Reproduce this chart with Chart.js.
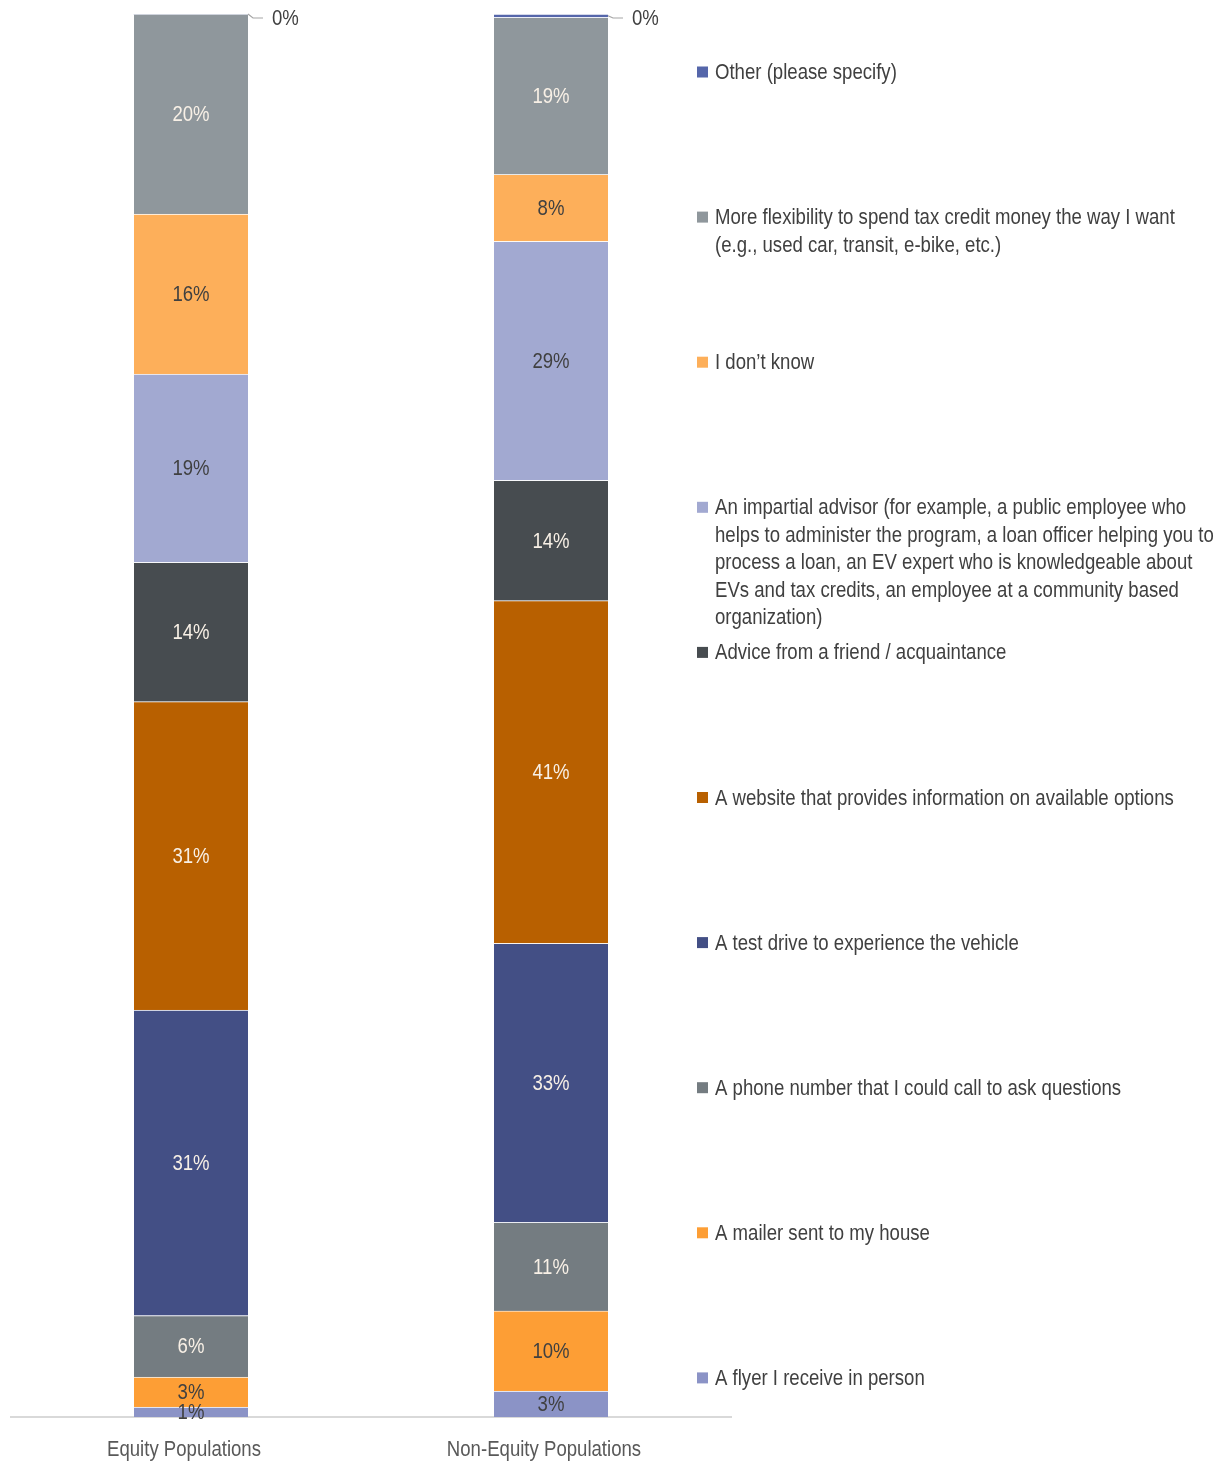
<!DOCTYPE html>
<html><head><meta charset="utf-8">
<script src="https://cdn.jsdelivr.net/npm/chart.js@4/dist/chart.umd.min.js"></script>
<style>html,body{margin:0;padding:0;background:#fff;}#wrap{width:1225px;height:1463px;position:relative;}</style>
</head><body><div id="wrap"><canvas id="c"></canvas></div>
<script>
const categories = ["Equity Populations", "Non-Equity Populations"];
const seriesNames = [
  "A flyer I receive in person",
  "A mailer sent to my house",
  "A phone number that I could call to ask questions",
  "A test drive to experience the vehicle",
  "A website that provides information on available options",
  "Advice from a friend / acquaintance",
  "An impartial advisor (for example, a public employee who helps to administer the program, a loan officer helping you to process a loan, an EV expert who is knowledgeable about EVs and tax credits, an employee at a community based organization)",
  "I don\u2019t know",
  "More flexibility to spend tax credit money the way I want (e.g., used car, transit, e-bike, etc.)",
  "Other (please specify)"
];
const equityValues    = [1.0, 3.0, 6.2, 30.7, 31.0, 14.0, 18.9, 16.1, 20.1, 0.0];
const nonEquityValues = [3.1, 9.6, 10.6, 33.4, 41.0, 14.4, 28.6, 8.0, 18.8, 0.4];
const seriesColors = ["#8B93C6", "#FD9E35", "#747C81", "#434F85", "#B86000", "#474C50", "#A2A9D1", "#FDAF5A", "#8F979C", "#5566AA"];
const labelColors  = ["#404040", "#404040", "#F8F0E6", "#F8F0E6", "#F8F0E6", "#F8F0E6", "#404040", "#404040", "#F8F0E6", "#404040"];

const FONT = '22px "Liberation Sans", Arial, sans-serif';
const SX = 0.845;   // horizontal squeeze to imitate a narrow face
const rawByCat = [equityValues, nonEquityValues];
const totals = rawByCat.map(a => a.reduce((s, v) => s + v, 0));

const datasets = seriesNames.map((name, i) => ({
  label: name,
  data: rawByCat.map((arr, c) => arr[i] / totals[c] * 100),
  raw: rawByCat.map(arr => arr[i]),
  backgroundColor: seriesColors[i],
  borderColor: 'rgba(255,255,255,0.4)',
  borderWidth: {top: 1, bottom: 0, left: 0, right: 0},
  borderSkipped: false,
  barThickness: 114
}));

function narrowText(ctx, txt, x, y, align) {
  ctx.save();
  ctx.translate(x, y);
  ctx.scale(SX, 1);
  ctx.textAlign = align;
  ctx.fillText(txt, 0, 0);
  ctx.restore();
}

const labelPlugin = {
  id: 'segLabels',
  afterDatasetsDraw(chart) {
    const ctx = chart.ctx;
    ctx.save();
    ctx.font = FONT;
    ctx.textBaseline = 'middle';
    chart.data.datasets.forEach((ds, i) => {
      const meta = chart.getDatasetMeta(i);
      meta.data.forEach((el, c) => {
        const raw = ds.raw[c];
        const txt = Math.round(raw) + '%';
        const cy = (el.y + el.base) / 2;
        if (Math.round(raw) === 0) {
          const right = el.x + el.width / 2;
          const ly = Math.max(cy + 1, chart.chartArea.top + 4);
          ctx.strokeStyle = '#A6A6A6';
          ctx.lineWidth = 1.2;
          ctx.beginPath();
          ctx.moveTo(right, cy);
          ctx.lineTo(right + 5, ly);
          ctx.lineTo(right + 15, ly);
          ctx.stroke();
          ctx.fillStyle = '#404040';
          narrowText(ctx, txt, right + 24, ly + 1, 'left');
        } else {
          ctx.fillStyle = labelColors[i];
          narrowText(ctx, txt, el.x, cy + 1, 'center');
        }
      });
    });
    ctx.restore();
  }
};

function wrap(ctx, text, maxW) {
  const words = text.split(' ');
  const lines = [];
  let cur = '';
  words.forEach(w => {
    const t = cur ? cur + ' ' + w : w;
    if (ctx.measureText(t).width * SX > maxW && cur) { lines.push(cur); cur = w; }
    else cur = t;
  });
  if (cur) lines.push(cur);
  return lines;
}

const legendPlugin = {
  id: 'sideLegend',
  afterDraw(chart) {
    const ctx = chart.ctx;
    ctx.save();
    ctx.font = FONT;
    ctx.textBaseline = 'middle';
    const n = chart.data.datasets.length;
    for (let k = 0; k < n; k++) {
      const i = n - 1 - k;
      const ds = chart.data.datasets[i];
      const y0 = 72 + k * 145.1;
      ctx.fillStyle = ds.backgroundColor;
      ctx.fillRect(697, y0 - 5.5, 11, 11);
      ctx.fillStyle = '#404040';
      const lines = wrap(ctx, ds.label, 503);
      lines.forEach((ln, j) => narrowText(ctx, ln, 715, y0 + 1 + j * 27.5, 'left'));
    }
    // category labels under the axis, positioned by the x scale
    const xs = chart.scales.x;
    ctx.fillStyle = '#595959';
    chart.data.labels.forEach((lab, t) => {
      narrowText(ctx, lab, xs.getPixelForTick(t) - 7, chart.chartArea.bottom + 33, 'center');
    });
    ctx.restore();
  }
};

new Chart(document.getElementById('c'), {
  type: 'bar',
  data: { labels: categories, datasets },
  options: {
    responsive: true,
    maintainAspectRatio: false,
    animation: false,
    layout: { padding: { left: 11, right: 494, top: 14, bottom: 46 } },
    plugins: { legend: { display: false }, tooltip: { enabled: false } },
    scales: {
      x: {
        stacked: true,
        grid: { display: false, drawTicks: false },
        border: { color: '#D9D9D9', width: 2 },
        ticks: { display: false }
      },
      y: { stacked: true, display: false, min: 0, max: 100 }
    }
  },
  plugins: [labelPlugin, legendPlugin]
});
</script>
<style>#c{width:1225px!important;height:1463px!important;}</style>
</body></html>
